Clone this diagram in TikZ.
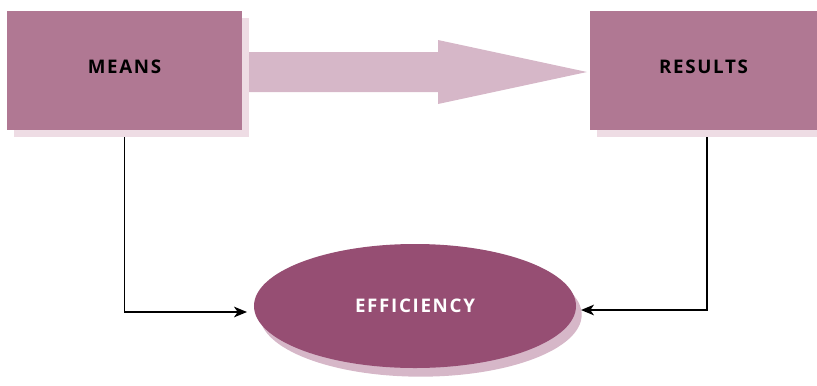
\documentclass[tikz,border=0pt]{standalone}
\usepackage{fontspec}
\setmainfont{Open Sans}[LetterSpace=9]
\usepackage{tikz}
\usetikzlibrary{arrows.meta, positioning, shapes.geometric, shadows}
\definecolor{boxpink}{HTML}{B07893}
\definecolor{plum}{HTML}{964E73}
\definecolor{lightpink}{HTML}{D6B7C8}
\definecolor{paleshadow}{HTML}{EEDCE4}

\begin{document}
\begin{tikzpicture}[x=0.03cm, y=-0.03cm,
    every node/.style={font=\fontsize{16}{19}\selectfont\bfseries},
    stagebox/.style={rectangle, fill=boxpink, minimum width=7.05cm, minimum height=3.57cm,
        text depth=0.2cm,
        drop shadow={shadow xshift=0.21cm, shadow yshift=-0.21cm, fill=paleshadow, opacity=1}},
    goal/.style={ellipse, fill=plum, text=white, minimum width=9.66cm, minimum height=3.72cm,
        drop shadow={shadow xshift=0.17cm, shadow yshift=-0.26cm, fill=lightpink, opacity=1}},
    link/.style={line width=1.6pt, -{Stealth[length=11pt, width=9pt, inset=3pt]}}]

% Canvas
\useasboundingbox (0,0) rectangle (817,385);

% Stages
\node[stagebox] (means) at (124.5,70.5) {MEANS};
\node[stagebox, minimum width=6.81cm] (results) at (703.5,70.5) {RESULTS};

% Outcome
\node[goal] (eff) at (415,306) {EFFICIENCY};

% Big arrow between the stages
\fill[lightpink] (249,52) -- (438,52) -- (438,40) -- (587,72) -- (438,104)
    -- (438,92) -- (249,92) -- cycle;

% Links into the ellipse
\coordinate (inL) at (247,312);
\coordinate (inR) at (581,310);
\draw[link, shorten <=0.21cm] (means.south) |- (inL);
\draw[link, shorten <=0.21cm] (results.south) ++(3.5,0) |- (inR);

\end{tikzpicture}
\end{document}
